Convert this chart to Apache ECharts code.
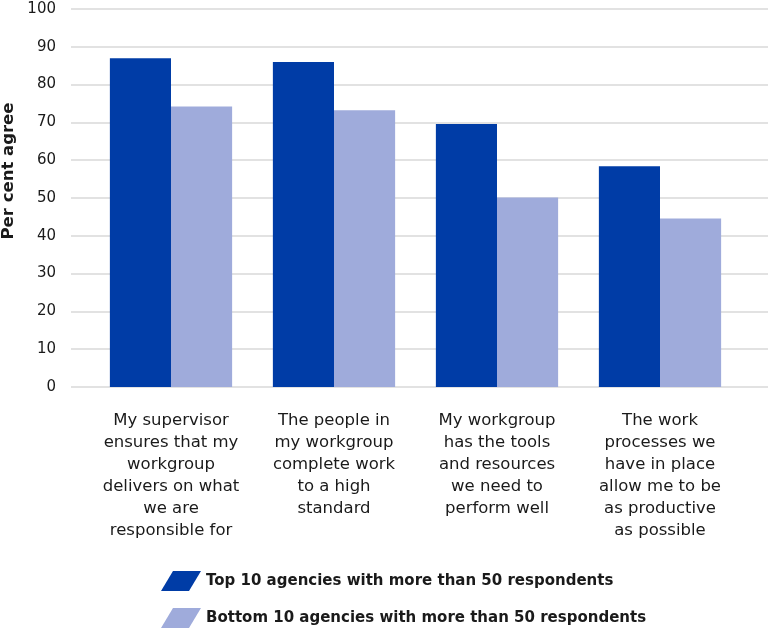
<!DOCTYPE html>
<html>
<head>
<meta charset="utf-8">
<script src="https://cdn.jsdelivr.net/npm/echarts@6/dist/echarts.min.js"></script>
<style>
  html, body { margin: 0; padding: 0; background: #fff; }
  #chart { width: 768px; height: 638px; }
</style>
</head>
<body>
<div id="chart"></div>
<script>
const categories = [
    'My supervisor\nensures that my\nworkgroup\ndelivers on what\nwe are\nresponsible for',
    'The people in\nmy workgroup\ncomplete work\nto a high\nstandard',
    'My workgroup\nhas the tools\nand resources\nwe need to\nperform well',
    'The work\nprocesses we\nhave in place\nallow me to be\nas productive\nas possible'
];
const topAgencies = [87, 86, 69.6, 58.4];
const bottomAgencies = [74.2, 73.2, 50.1, 44.6];
const seriesNames = [
    'Top 10 agencies with more than 50 respondents',
    'Bottom 10 agencies with more than 50 respondents'
];

const fontFamily = '"DejaVu Sans", sans-serif';
const darkBlue = '#003ca6';
const lightBlue = '#9fabdb';
const icon = 'path://M12,0 L40,0 L28,20 L0,20 Z';

var myChart = echarts.init(document.getElementById('chart'));

var option = {
    animation: false,
    textStyle: { fontFamily: fontFamily },
    color: [darkBlue, lightBlue],
    legend: {
        orient: 'vertical',
        left: 156,
        top: 566,
        itemWidth: 40,
        itemHeight: 20,
        itemGap: 17,
        icon: icon,
        textStyle: { fontSize: 15, fontWeight: 'bold', color: '#1a1a1a', fontFamily: fontFamily },
        data: seriesNames
    },
    graphic: [{
        type: 'text',
        x: 9,
        y: 171,
        rotation: Math.PI / 2,
        style: {
            text: 'Per cent agree',
            fontSize: 16.5,
            fontWeight: 'bold',
            fontFamily: fontFamily,
            fill: '#1a1a1a',
            align: 'center',
            verticalAlign: 'middle'
        }
    }],
    grid: [
        // gridlines and y labels
        { left: 71, right: 0, top: 9, bottom: 251 },
        // bars
        { left: 89.5, right: 26.5, top: 9, bottom: 251 }
    ],
    xAxis: [{
        gridIndex: 0,
        type: 'value',
        show: false
    }, {
        gridIndex: 1,
        type: 'category',
        data: categories,
        axisLine: { show: false },
        axisTick: { show: false },
        axisLabel: {
            margin: 23,
            fontSize: 16.5,
            lineHeight: 22,
            color: '#1a1a1a',
            interval: 0,
            align: 'center'
        }
    }],
    yAxis: [{
        gridIndex: 0,
        type: 'value',
        min: 0,
        max: 100,
        interval: 10,
        axisLine: { show: false },
        axisTick: { show: false },
        axisLabel: { margin: 15, fontSize: 15, color: '#1a1a1a' },
        splitLine: { lineStyle: { color: '#d9d9d9', width: 1.5 } }
    }, {
        gridIndex: 1,
        type: 'value',
        min: 0,
        max: 100,
        interval: 10,
        show: false,
        splitLine: { show: false }
    }],
    series: [{
        name: seriesNames[0],
        type: 'bar',
        xAxisIndex: 1,
        yAxisIndex: 1,
        data: topAgencies,
        barGap: '0%',
        barCategoryGap: '25%',
        itemStyle: { color: darkBlue }
    }, {
        name: seriesNames[1],
        type: 'bar',
        xAxisIndex: 1,
        yAxisIndex: 1,
        data: bottomAgencies,
        itemStyle: { color: lightBlue }
    }]
};

myChart.setOption(option);
</script>
</body>
</html>
